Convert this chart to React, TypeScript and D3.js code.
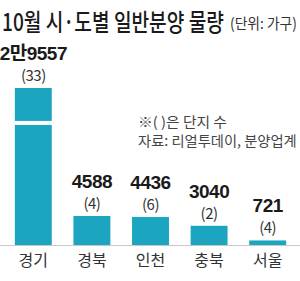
import React, { useRef, useLayoutEffect } from 'react';
import * as d3 from 'd3';

// data
const regions = ['경기', '경북', '인천', '충북', '서울'];
const supply = [29557, 4588, 4436, 3040, 721];
const supplyLabels = ['2만9557', '4588', '4436', '3040', '721'];
const complexes = [33, 4, 6, 2, 4];

const title = '10월 시·도별 일반분양 물량';
const unitText = '(단위: 가구)';
const note = '※( )은 단지 수';
const source = '자료: 리얼투데이, 분양업계';

// the tall bar is cut: above this value the scale is compressed
const breakValue = 19000;

const W = 300;
const H = 281;
const baseY = 245;
const KR = "'Noto Sans CJK KR', 'Noto Sans', sans-serif";
const NUM = "'Liberation Sans Narrow', 'Liberation Sans', 'Noto Sans CJK KR', sans-serif";

// condensed text: squeeze horizontally to a given width
const FitText = ({ x, y, width, children, ...rest }: any) => {
  const ref = useRef<SVGTextElement>(null);
  useLayoutEffect(() => {
    const el = ref.current;
    if (!el) return;
    const natural = el.getComputedTextLength();
    const s = natural > 0 ? width / natural : 1;
    d3.select(el).attr('transform', `translate(${x},${y}) scale(${s},1)`);
  }, [x, y, width]);
  return <text ref={ref} x={0} y={0} transform={`translate(${x},${y})`} {...rest}>{children}</text>;
};

const App = () => {
  const x = d3.scaleBand<string>()
    .domain(regions)
    .range([4, 297])
    .paddingInner(0.37)
    .paddingOuter(0.185);

  // piecewise scale to draw the broken axis
  const y = d3.scaleLinear()
    .domain([0, breakValue, d3.max(supply) as number])
    .range([baseY, baseY - breakValue * 0.00632, 88]);

  const bw = x.bandwidth();

  return (
    <svg width={W} height={H} style={{ position: 'absolute', left: 0, top: 0, background: '#fff' }}>
      <rect width={W} height={H} fill="#fff" />
      <FitText x={2} y={31} width={222} fontFamily={KR} fontSize={24} fontWeight={500} fill="#1a1a1a">{title}</FitText>
      <FitText x={230} y={29} width={67} fontFamily={KR} fontSize={15} fill="#333">{unitText}</FitText>

      <FitText x={138} y={127} width={89} fontFamily={KR} fontSize={14} fill="#444">{note}</FitText>
      <FitText x={138} y={146} width={159} fontFamily={KR} fontSize={14} fill="#444">{source}</FitText>

      <line x1={0} x2={W} y1={baseY + 0.5} y2={baseY + 0.5} stroke="#c8c8c8" strokeWidth={1} />

      {regions.map((r, i) => {
        const cx = (x(r) as number) + bw / 2;
        const top = y(supply[i]);
        return (
          <g key={r}>
            <rect x={x(r)} y={top} width={bw} height={baseY - top} fill="#1ba5c1" />
            {supply[i] > breakValue && (
              <rect x={(x(r) as number) - 1} y={y(breakValue) - 4} width={bw + 2} height={4} fill="#fff" />
            )}
            <text x={cx} y={top - 7} textAnchor="middle" fontFamily={KR} fontSize={15} fill="#333"
              letterSpacing={-0.5}>({complexes[i]})</text>
            <text x={cx} y={top - 28} textAnchor="middle" fontFamily={NUM} fontSize={19} fontWeight="bold"
              fill="#1a1a1a" letterSpacing={-0.5}>{supplyLabels[i]}</text>
            <text x={cx} y={266} textAnchor="middle" fontFamily={KR} fontSize={16} fill="#333">{r}</text>
          </g>
        );
      })}
    </svg>
  );
};

export default App;
